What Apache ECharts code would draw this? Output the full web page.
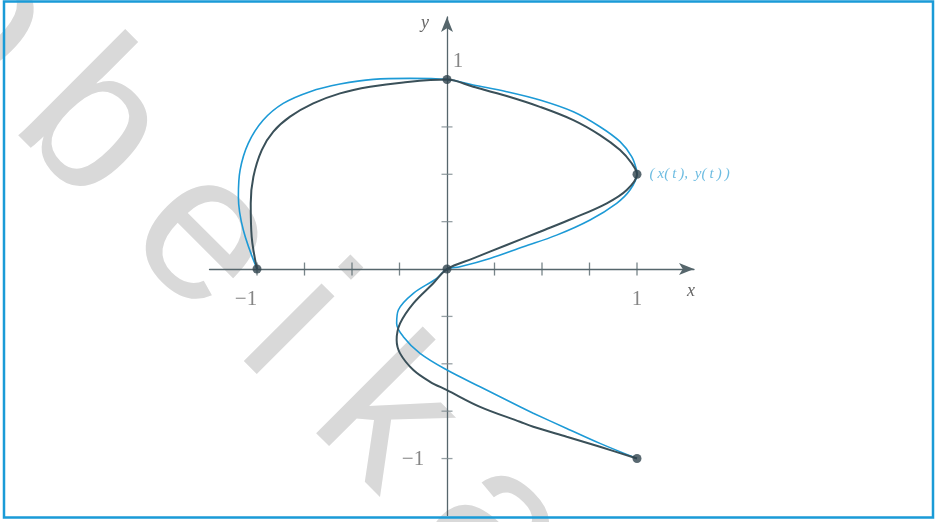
<!DOCTYPE html>
<html>
<head>
<meta charset="utf-8">
<script src="https://cdn.jsdelivr.net/npm/echarts@6/dist/echarts.min.js"></script>
<style>
  html, body { margin: 0; padding: 0; background: #fff; }
  #chart { width: 936px; height: 522px; }
</style>
</head>
<body>
<div id="chart"></div>
<script>
// Parametric curve (x(t), y(t)) through five knots, shown as two smooth fits.
const knots = [[-1, 0], [0, 1], [1, 0.5], [0, 0], [1, -1]];

const blueCurve = [
  [-1, 0], [-1.072, 0.206], [-1.098, 0.382], [-1.089, 0.522], [-1.046, 0.663],
  [-0.967, 0.786], [-0.862, 0.874], [-0.721, 0.936], [-0.563, 0.976], [-0.388, 1.001],
  [-0.195, 1.006], [0, 1],
  [0.138, 0.971], [0.314, 0.936], [0.489, 0.892], [0.665, 0.830], [0.805, 0.751],
  [0.911, 0.672], [0.972, 0.593], [0.998, 0.522], [1, 0.5],
  [0.963, 0.417], [0.893, 0.347], [0.753, 0.259], [0.577, 0.179], [0.402, 0.118],
  [0.226, 0.056], [0.068, 0.012], [0, 0],
  [-0.054, -0.049], [-0.177, -0.128], [-0.256, -0.216], [-0.265, -0.287], [-0.230, -0.357],
  [-0.142, -0.445], [0, -0.533], [0.174, -0.621], [0.384, -0.727], [0.454, -0.761],
  [0.630, -0.841], [0.805, -0.920], [1, -1]
];

const darkCurve = [
  [-1, 0], [-1.028, 0.170], [-1.033, 0.347], [-1.019, 0.487], [-0.975, 0.628],
  [-0.914, 0.725], [-0.826, 0.804], [-0.704, 0.874], [-0.563, 0.927], [-0.405, 0.962],
  [-0.230, 0.985], [0, 1],
  [0.138, 0.962], [0.314, 0.913], [0.489, 0.856], [0.665, 0.786], [0.805, 0.707],
  [0.911, 0.628], [0.972, 0.558], [1, 0.5],
  [0.946, 0.417], [0.841, 0.347], [0.665, 0.268], [0.489, 0.197], [0.314, 0.127],
  [0.138, 0.056], [0, 0],
  [-0.072, -0.075], [-0.177, -0.181], [-0.247, -0.287], [-0.265, -0.375], [-0.247, -0.445],
  [-0.177, -0.533], [-0.089, -0.595], [0, -0.639], [0.174, -0.727], [0.384, -0.806],
  [0.454, -0.832], [0.630, -0.885], [0.805, -0.938], [1, -1]
];

const xTicks = [-1, -0.75, -0.5, -0.25, 0.25, 0.5, 0.75, 1];
const yTicks = [-1, -0.75, -0.5, -0.25, 0.25, 0.5, 0.75, 1];
const xTickLabels = [{ v: -1, text: '\u22121', dx: -11 }, { v: 1, text: '1', dx: 0 }];
const yTickLabels = [{ v: 1, text: '1', side: 'right' }, { v: -1, text: '\u22121', side: 'left' }];
const curveLabel = '(\u2009x(\u2009t\u2009),\u2009 y(\u2009t\u2009)\u2009)';

const AXIS = '#56666c';
const DARK = '#3a5059';
const BLUE = '#1d9ad6';
const SERIF = '"Liberation Serif", "DejaVu Serif", serif';

// Background lettering, laid out along a diagonal baseline.
const wmLetters = [['o', -126], ['b', 32], ['e', 192], ['i', 316], ['k', 447], ['a', 605], ['n', 760]];
const wmOrigin = [18, 153], wmLift = 70, c45 = Math.SQRT1_2;
const watermark = wmLetters.map(([ch, u]) => ({
  type: 'text',
  x: wmOrigin[0] + (u + wmLift) * c45,
  y: wmOrigin[1] + (u - wmLift) * c45,
  rotation: -Math.PI / 4,
  z: -10,
  silent: true,
  style: {
    text: ch,
    font: '208px "Liberation Sans", Arial, sans-serif',
    fill: '#d9d9d9',
    align: 'center',
    verticalAlign: 'middle'
  }
}));

const chart = echarts.init(document.getElementById('chart'), null, { renderer: 'canvas' });

const axisCommon = {
  type: 'value',
  axisLine: {
    onZero: true,
    symbol: ['none', 'arrow'],
    symbolSize: [9, 15],
    lineStyle: { color: AXIS, width: 1.3 }
  },
  axisTick: { show: false },
  axisLabel: { show: false },
  splitLine: { show: false }
};

chart.setOption({
  backgroundColor: '#fff',
  animation: false,
  grid: { left: 209.5, width: 484.5, top: 17, height: 498.4 },
  xAxis: Object.assign({}, axisCommon, {
    min: -1.25, max: 1.3,
    name: 'x', nameLocation: 'end', nameGap: -3,
    nameTextStyle: {
      fontFamily: SERIF, fontStyle: 'italic', fontSize: 18, color: '#666',
      align: 'center', verticalAlign: 'top', padding: [13, 0, 0, 0]
    }
  }),
  yAxis: Object.assign({}, axisCommon, {
    min: -1.3, max: 1.33,
    name: 'y', nameLocation: 'end', nameGap: -6,
    nameTextStyle: {
      fontFamily: SERIF, fontStyle: 'italic', fontSize: 18, color: '#666',
      align: 'right', verticalAlign: 'middle', padding: [0, 18, 0, 0]
    }
  }),
  graphic: watermark.concat([{
    type: 'rect',
    z: 100,
    silent: true,
    shape: { x: 4, y: 1.5, width: 929, height: 516 },
    style: { fill: 'none', stroke: '#1a9bd7', lineWidth: 2.5 }
  }]),
  series: [
    {
      type: 'scatter', name: 'xticks', silent: true,
      data: xTicks.map(v => [v, 0]),
      symbol: 'rect', symbolSize: [1.3, 13],
      itemStyle: { color: AXIS }, z: 1
    },
    {
      type: 'scatter', name: 'yticks', silent: true,
      data: yTicks.map(v => [0, v]),
      symbol: 'rect', symbolSize: [11, 1.3],
      itemStyle: { color: '#7d8a8f' }, z: 1
    },
    {
      type: 'scatter', name: 'xlabels', silent: true,
      data: xTickLabels.map(d => ({
        value: [d.v, 0], name: d.text,
        label: { offset: [d.dx, 30] }
      })),
      symbolSize: 1, itemStyle: { color: 'rgba(0,0,0,0)' },
      label: {
        show: true, position: 'inside', formatter: p => p.name,
        fontFamily: SERIF, fontSize: 21, color: '#666'
      }
    },
    {
      type: 'scatter', name: 'ylabels', silent: true,
      data: yTickLabels.map(d => ({
        value: [0, d.v], name: d.text,
        label: { offset: d.side === 'right' ? [11, -18] : [-34, 1] }
      })),
      symbolSize: 1, itemStyle: { color: 'rgba(0,0,0,0)' },
      label: {
        show: true, position: 'inside', formatter: p => p.name,
        fontFamily: SERIF, fontSize: 21, color: '#666'
      }
    },
    {
      type: 'line', name: 'blue', data: blueCurve,
      smooth: 0.35, showSymbol: false, silent: true,
      lineStyle: { color: BLUE, width: 1.6 }, z: 3
    },
    {
      type: 'line', name: 'dark', data: darkCurve,
      smooth: 0.35, showSymbol: false, silent: true,
      lineStyle: { color: DARK, width: 2 }, z: 4
    },
    {
      type: 'scatter', name: 'knots', silent: true,
      data: knots.map((k, i) => i === 2 ? {
        value: k,
        label: {
          show: true, position: 'right', distance: 8,
          formatter: curveLabel,
          fontFamily: SERIF, fontStyle: 'italic', fontSize: 15, color: '#49abd9'
        }
      } : k),
      symbol: 'circle', symbolSize: 9,
      itemStyle: { color: '#2f444d' }, z: 5
    }
  ]
});
</script>
</body>
</html>
